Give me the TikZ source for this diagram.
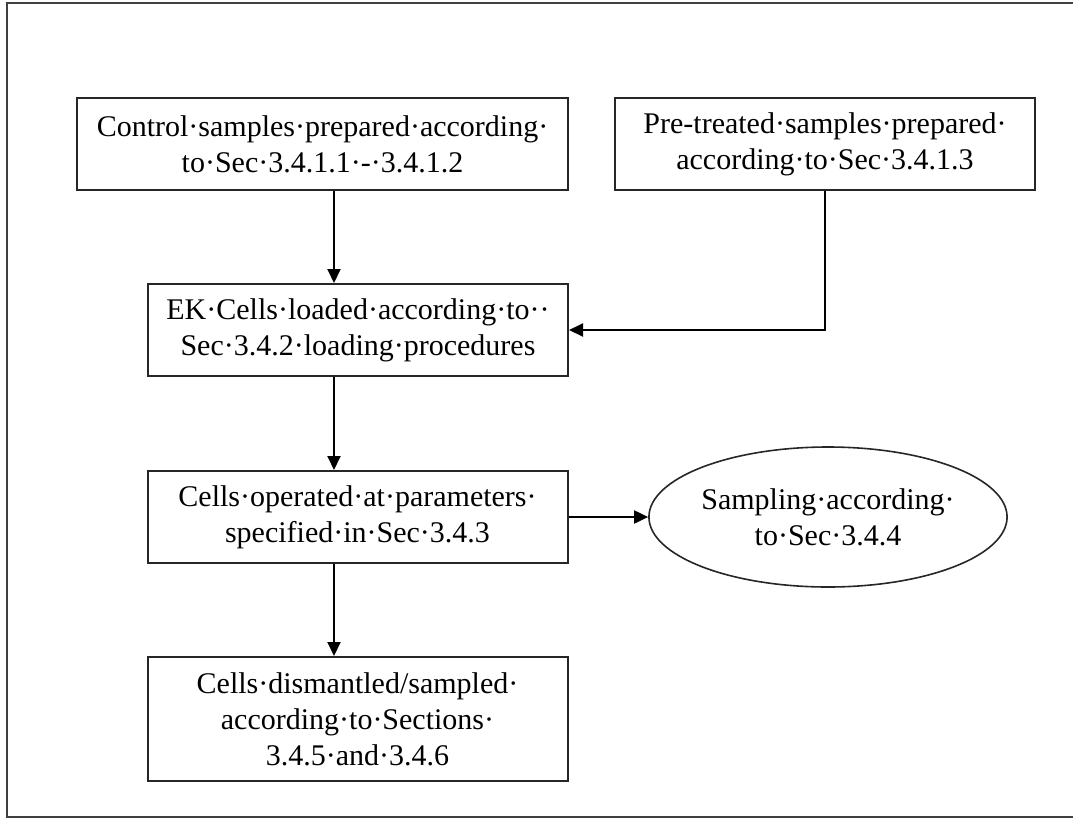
\documentclass[tikz,border=0pt]{standalone}
\usepackage{fontspec}
\setmainfont{Liberation Serif}
\usetikzlibrary{arrows.meta,shapes.geometric}

\tikzset{
  stagebox/.style={draw=black!85,line width=2pt,minimum width=420pt,minimum height=92pt,
    inner sep=0pt,align=center,font=\fontsize{30}{36}\selectfont},
  samplebubble/.style={ellipse,draw=black!85,line width=1.6pt,minimum width=335pt,minimum height=140pt,
    inner sep=0pt,align=center,font=\fontsize{30}{36}\selectfont},
  flow/.style={line width=2pt,-{Triangle[length=14pt,width=13pt]}}
}

\begin{document}
\begin{tikzpicture}[x=1pt,y=-1pt]
\useasboundingbox (0,0) rectangle (1073,819);
% outer frame, right side cut off
\draw[line width=2pt,black!75] (1073,3) -- (7,3) -- (7,817) -- (1073,817);

\node[stagebox,minimum width=491pt] (ctrl) at (322.5,144) {Control·samples·prepared·according·\\to·Sec·3.4.1.1·-·3.4.1.2};
\node[stagebox] (pre) at (825,144) {Pre-treated·samples·prepared·\\according·to·Sec·3.4.1.3};
\node[stagebox] (load) at (358,330) {EK·Cells·loaded·according·to··\\Sec·3.4.2·loading·procedures};
\node[stagebox] (oper) at (357.5,517) {Cells·operated·at·parameters·\\specified·in·Sec·3.4.3};
\node[samplebubble] (sampl) at (828,517) {Sampling·according·\\to·Sec·3.4.4};
\node[stagebox,minimum height=124pt] (dism) at (357.5,719) {Cells·dismantled/sampled·\\according·to·Sections·\\3.4.5·and·3.4.6};

\coordinate (spine) at (334,0);

\draw[flow] (ctrl.south -| spine) -- (load.north -| spine);
\draw[flow] (pre.south) |- (load.east);
\draw[flow] (load.south -| spine) -- (oper.north -| spine);
\draw[flow] (oper.east) -- (sampl.west);
\draw[flow] (oper.south -| spine) -- (dism.north -| spine);
\end{tikzpicture}
\end{document}
